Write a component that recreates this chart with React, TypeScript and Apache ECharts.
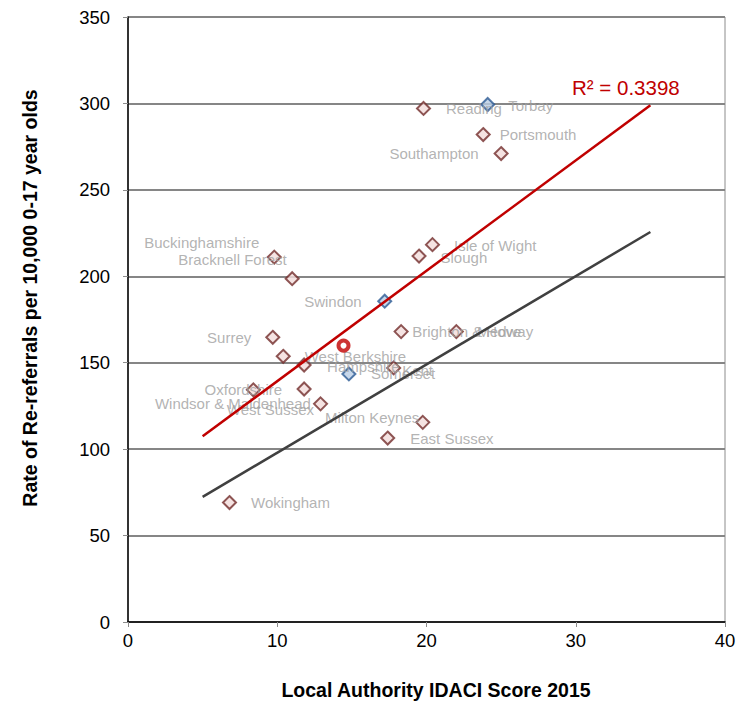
import React, { useEffect, useRef } from "react";
import * as echarts from "echarts";

// ---- Data ----
const authorities = [
  "Reading", "Torbay", "Portsmouth", "Southampton", "Isle of Wight", "Slough",
  "Buckinghamshire", "Bracknell Forest", "Swindon", "Brighton & Hove", "Medway",
  "Surrey", "West Berkshire", "Hampshire", "Somerset", "Kent",
  "Windsor & Maidenhead", "Oxfordshire", "West Sussex", "Milton Keynes",
  "East Sussex", "Wokingham",
];
const idaciScore = [
  19.8, 24.1, 23.8, 25.0, 20.4, 19.5,
  9.8, 11.0, 17.2, 18.3, 22.0,
  9.7, 10.4, 11.8, 14.8, 17.8,
  8.4, 11.8, 12.9, 19.75,
  17.4, 6.8,
];
const reReferralRate = [
  297.1, 299.4, 282.0, 271.0, 218.3, 211.7,
  211.1, 198.6, 185.6, 168.0, 168.0,
  164.7, 153.7, 148.7, 143.5, 147.0,
  134.3, 134.8, 126.2, 115.5,
  106.4, 69.1,
];
const southWestAuthorities = ["Torbay", "Swindon", "Somerset"];

const highlightIdaci = [14.44];
const highlightRate = [159.9];

const redTrendX = [5, 35];
const redTrendY = [107.4, 299.0];
const greyTrendX = [5, 35];
const greyTrendY = [72.4, 225.6];

const rSquaredText = "R² = 0.3398";
const xTitle = "Local Authority IDACI Score 2015";
const yTitle = "Rate of Re-referrals per 10,000 0-17 year olds";

// ---- Layout of the data labels (side, dx, dy) ----
const labelPlacement: Record<string, [string, number, number]> = {
  "Reading": ["right", 15, 0],
  "Torbay": ["right", 13, 1],
  "Portsmouth": ["right", 9, 0],
  "Southampton": ["left", -15, 0],
  "Isle of Wight": ["right", 14, 1],
  "Slough": ["right", 14, 1],
  "Buckinghamshire": ["left", -7.5, -15],
  "Bracknell Forest": ["left", 2, -19],
  "Swindon": ["left", -15.5, 0],
  "Brighton & Hove": ["right", 3.5, 0],
  "Medway": ["right", 13.5, 0],
  "Surrey": ["left", -14, 0],
  "West Berkshire": ["right", 14, 0],
  "Hampshire": ["right", 15.5, 1.5],
  "Somerset": ["right", 14.5, 0],
  "Kent": ["right", 1, 3],
  "Windsor & Maidenhead": ["left", 65, 13.4],
  "Oxfordshire": ["left", -14.5, 0.5],
  "West Sussex": ["left", 1, 6],
  "Milton Keynes": ["left", 4, -5],
  "East Sussex": ["right", 15, 0.5],
  "Wokingham": ["right", 14, 0],
};

const FONT = "'Liberation Sans', Arial, sans-serif";

export default function App() {
  const ref = useRef<HTMLDivElement>(null);

  useEffect(() => {
    if (!ref.current) return;
    const chart = echarts.init(ref.current, undefined, { renderer: "svg" });

    const scatterData = authorities.map((name, i) => {
      const sw = southWestAuthorities.includes(name);
      const p = labelPlacement[name] || ["right", 15, 0];
      return {
        name,
        value: [idaciScore[i], reReferralRate[i]],
        itemStyle: sw
          ? { color: "#b9cde5", borderColor: "#2c5a94", borderWidth: 2 }
          : { color: "#f2dcdb", borderColor: "#722c2a", borderWidth: 2 },
        label: { position: p[0], offset: [p[1], p[2]] },
      };
    });

    const option: any = {
      animation: false,
      backgroundColor: "#ffffff",
      grid: {
        left: 128,
        top: 17,
        right: 21,
        bottom: 82,
        show: true,
        borderColor: "#8c8c8c",
        borderWidth: 1,
        backgroundColor: "transparent",
      },
      xAxis: {
        type: "value",
        min: 0,
        max: 40,
        interval: 10,
        axisLine: { show: true, onZero: false, lineStyle: { color: "#000", width: 1.5 } },
        axisTick: { show: true, length: 5, lineStyle: { color: "#8c8c8c" } },
        axisLabel: { color: "#000", fontSize: 18.5, fontFamily: FONT, margin: 9 },
        splitLine: { show: false },
      },
      yAxis: {
        type: "value",
        min: 0,
        max: 350,
        interval: 50,
        axisLine: { show: true, onZero: false, lineStyle: { color: "#000", width: 1.5 } },
        axisTick: { show: true, length: 5, lineStyle: { color: "#8c8c8c" } },
        axisLabel: { color: "#000", fontSize: 18.5, fontFamily: FONT, margin: 18 },
        splitLine: { show: true, lineStyle: { color: "#868686", width: 2 } },
      },
      graphic: [
        {
          type: "text",
          x: 30,
          y: 298,
          rotation: Math.PI / 2,
          style: {
            text: yTitle,
            font: `bold 19.5px ${FONT}`,
            fill: "#000",
            textAlign: "center",
            textVerticalAlign: "middle",
          },
        },
        {
          type: "text",
          x: 436,
          y: 690,
          style: {
            text: xTitle,
            font: `bold 19.5px ${FONT}`,
            fill: "#000",
            textAlign: "center",
            textVerticalAlign: "middle",
          },
        },
        {
          type: "text",
          x: 572,
          y: 87,
          style: {
            text: rSquaredText,
            font: `20.5px ${FONT}`,
            fill: "#c00000",
            textAlign: "left",
            textVerticalAlign: "middle",
          },
        },
      ],
      series: [
        {
          type: "scatter",
          symbol: "diamond",
          symbolSize: 13,
          data: scatterData,
          label: {
            show: true,
            formatter: "{b}",
            color: "#a0a0a0",
            fontSize: 15,
            fontFamily: FONT,
            distance: 0,
          },
          z: 2,
        },
        {
          type: "line",
          data: redTrendX.map((x, i) => [x, redTrendY[i]]),
          symbol: "none",
          lineStyle: { color: "#c00000", width: 2.5 },
          z: 3,
        },
        {
          type: "line",
          data: greyTrendX.map((x, i) => [x, greyTrendY[i]]),
          symbol: "none",
          lineStyle: { color: "#404040", width: 2.5 },
          z: 3,
        },
        {
          type: "scatter",
          symbol: "circle",
          symbolSize: 10,
          data: highlightIdaci.map((x, i) => [x, highlightRate[i]]),
          itemStyle: { color: "#ffffff", borderColor: "#c00000", borderWidth: 4 },
          z: 4,
        },
      ],
    };

    chart.setOption(option);
    return () => chart.dispose();
  }, []);

  return (
    <div
      ref={ref}
      style={{ position: "fixed", left: 0, top: 0, width: 746, height: 704, background: "#fff" }}
    />
  );
}
